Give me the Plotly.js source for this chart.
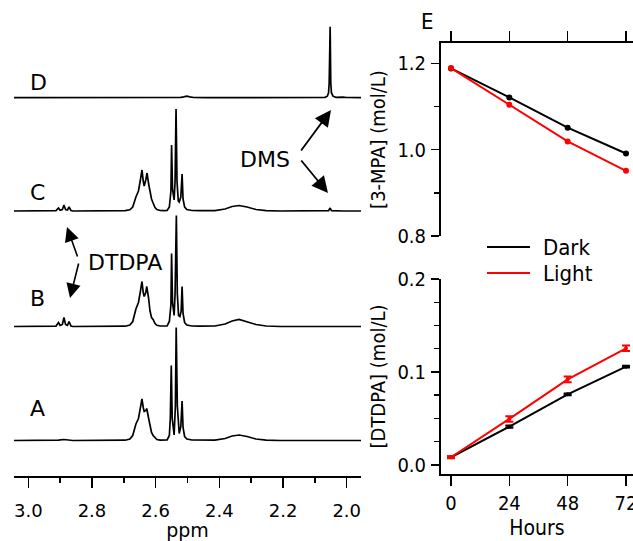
<!DOCTYPE html>
<html>
<head>
<meta charset="utf-8">
<script src="https://cdn.plot.ly/plotly-3.0.1.min.js"></script>
<style>html,body{margin:0;padding:0;background:#fff}#chart{width:633px;height:541px}</style>
</head>
<body>
<div id="chart"></div>
<script>
// ---------- DATA ----------
const ppmTickVals = [3.0, 2.8, 2.6, 2.4, 2.2, 2.0];
const ppmTickText = ['3.0', '2.8', '2.6', '2.4', '2.2', '2.0'];

// Spectrum D (ppm, intensity)
const specD_ppm = [3.045, 2.600, 2.521, 2.512, 2.502, 2.493, 2.480, 2.440, 2.240, 2.222, 2.205, 2.100, 2.094, 2.088, 2.068, 2.061, 2.057, 2.055, 2.052, 2.050, 2.048, 2.043, 2.034, 2.012, 2.000, 1.955];
const specD_int = [0, 0, 0.3, 0.8, 1.5, 0.8, 0.2, 0, 0, 0.6, 0, 0, 0.4, 0, 0.4, 1.5, 5, 15, 71, 15, 5, 1.5, 0.4, 0.5, 0.2, 0];

// Spectrum C
const specC_ppm = [3.045, 2.932, 2.913, 2.905, 2.900, 2.893, 2.888, 2.883, 2.877, 2.872, 2.866, 2.860, 2.775, 2.696, 2.681, 2.672, 2.662, 2.654, 2.648, 2.643, 2.639, 2.636, 2.631, 2.627, 2.622, 2.618, 2.613, 2.608, 2.602, 2.596, 2.586, 2.574, 2.564, 2.557, 2.552, 2.550, 2.547, 2.542, 2.539, 2.536, 2.533, 2.529, 2.526, 2.521, 2.517, 2.514, 2.509, 2.502, 2.486, 2.461, 2.414, 2.382, 2.360, 2.338, 2.313, 2.285, 2.253, 2.209, 2.068, 2.057, 2.052, 2.048, 2.012, 1.955];
const specC_int = [0, 0, 0.3, 3, 0.8, 1.5, 6, 1.5, 1, 4, 0.5, 0, 0, 0.3, 1.2, 4, 14, 20, 31, 41, 30, 25, 31, 38, 27, 18, 12, 8, 3.5, 1.5, 0.5, 0.3, 0.6, 4, 20, 66, 22, 11, 30, 102, 30, 10, 9, 14, 37, 12, 4, 1.5, 0.5, 0.3, 0.4, 2, 4.5, 5.5, 4, 1.5, 0.4, 0, 0, 0.3, 3, 0.3, 0, 0];

// Spectrum B
const specB_ppm = [3.045, 2.932, 2.913, 2.905, 2.900, 2.893, 2.888, 2.883, 2.877, 2.872, 2.866, 2.860, 2.696, 2.681, 2.672, 2.662, 2.654, 2.648, 2.643, 2.639, 2.636, 2.631, 2.628, 2.622, 2.618, 2.613, 2.608, 2.602, 2.596, 2.586, 2.574, 2.564, 2.557, 2.552, 2.550, 2.547, 2.542, 2.539, 2.535, 2.532, 2.528, 2.524, 2.520, 2.517, 2.514, 2.509, 2.502, 2.486, 2.461, 2.414, 2.382, 2.360, 2.338, 2.313, 2.285, 2.253, 2.209, 1.955];
const specB_int = [0, 0, 0.4, 4, 1, 2, 9, 2, 1.2, 5, 0.5, 0, 0.3, 1.5, 5, 17.5, 24, 35, 45, 34, 30, 34, 40, 28, 16, 9, 7, 3, 1.2, 0.5, 0.3, 0.7, 5, 22, 73, 24, 11, 33, 111, 33, 11, 10, 15, 40, 13, 4, 1.5, 0.5, 0.3, 0.5, 2.5, 5.5, 7, 5, 2, 0.5, 0, 0];

// Spectrum A
const specA_ppm = [3.045, 2.932, 2.905, 2.888, 2.872, 2.860, 2.696, 2.681, 2.672, 2.662, 2.654, 2.648, 2.643, 2.639, 2.636, 2.631, 2.628, 2.622, 2.618, 2.613, 2.608, 2.602, 2.596, 2.586, 2.574, 2.564, 2.557, 2.554, 2.551, 2.548, 2.542, 2.538, 2.5355, 2.532, 2.526, 2.521, 2.517, 2.514, 2.509, 2.502, 2.486, 2.414, 2.382, 2.360, 2.338, 2.313, 2.285, 2.253, 2.209, 1.955];
const specA_int = [0, 0, 0.4, 1, 0.4, 0, 0.3, 1.5, 5, 16.5, 22, 32, 41.5, 33, 29, 30, 32, 22, 14, 8, 5, 2.5, 1, 0.4, 0.3, 0.6, 5, 22, 75, 22, 5.5, 35, 113, 35, 7, 14, 39.5, 13, 4, 1.5, 0.5, 0.4, 2, 4.5, 5.5, 4, 1.5, 0.4, 0, 0];

// Panel E
const hours = [0, 24, 48, 72];
const hourTickText = ['0', '24', '48', '72'];
const mpaDark = [1.188, 1.121, 1.051, 0.991];
const mpaLight = [1.189, 1.104, 1.019, 0.951];
const dtdpaDark = [0.0083, 0.0412, 0.0760, 0.1057];
const dtdpaDarkErr = [0.0008, 0.0012, 0.0010, 0.0010];
const dtdpaLight = [0.0083, 0.0495, 0.0921, 0.1255];
const dtdpaLightErr = [0.0010, 0.0030, 0.0030, 0.0030];
const seriesNames = ['Dark', 'Light'];

// ---------- LAYOUT HELPERS ----------
const W = 633, H = 541;
const px = x => x / W;
const py = y => 1 - y / H;
function specAxis(basePx, lo, hi) {
  return {domain: [py(basePx - lo), py(basePx - hi)], range: [lo, hi], anchor: 'x', visible: false, fixedrange: true};
}
const F_L = 'DejaVu Sans, Verdana, sans-serif';
const F_R = 'DejaVu Sans Condensed, DejaVu Sans, sans-serif';
const BLACK = '#000000', RED = '#ff0000';

const specLine = {color: BLACK, width: 1.7};
const traces = [
  {x: specA_ppm, y: specA_int, xaxis: 'x', yaxis: 'y', mode: 'lines', line: specLine, hoverinfo: 'skip'},
  {x: specB_ppm, y: specB_int, xaxis: 'x', yaxis: 'y2', mode: 'lines', line: specLine, hoverinfo: 'skip'},
  {x: specC_ppm, y: specC_int, xaxis: 'x', yaxis: 'y3', mode: 'lines', line: specLine, hoverinfo: 'skip'},
  {x: specD_ppm, y: specD_int, xaxis: 'x', yaxis: 'y4', mode: 'lines', line: specLine, hoverinfo: 'skip'},
  {x: hours, y: mpaDark, name: seriesNames[0], xaxis: 'x2', yaxis: 'y5', mode: 'lines+markers', line: {color: BLACK, width: 2}, marker: {color: BLACK, size: 6}, cliponaxis: false},
  {x: hours, y: mpaLight, name: seriesNames[1], xaxis: 'x2', yaxis: 'y5', mode: 'lines+markers', line: {color: RED, width: 2}, marker: {color: RED, size: 6}, cliponaxis: false},
  {x: hours, y: dtdpaDark, name: seriesNames[0], xaxis: 'x3', yaxis: 'y6', mode: 'lines+markers', line: {color: BLACK, width: 2}, marker: {color: BLACK, size: 4}, error_y: {type: 'data', array: dtdpaDarkErr, color: BLACK, thickness: 2, width: 4}, cliponaxis: false},
  {x: hours, y: dtdpaLight, name: seriesNames[1], xaxis: 'x3', yaxis: 'y6', mode: 'lines+markers', line: {color: RED, width: 2}, marker: {color: RED, size: 4}, error_y: {type: 'data', array: dtdpaLightErr, color: RED, thickness: 2, width: 4}, cliponaxis: false}
];

const axCommon = {showgrid: false, zeroline: false, showline: true, linecolor: BLACK, linewidth: 2, ticks: 'outside', tickcolor: BLACK, tickwidth: 1.5, automargin: false, fixedrange: true, ticklabeloverflow: 'allow'};
const hourRange = [-4.11, 74.88];

const layout = {
  width: W, height: H,
  margin: {l: 0, r: 0, t: 0, b: 0},
  paper_bgcolor: '#ffffff', plot_bgcolor: 'rgba(0,0,0,0)',
  showlegend: false,
  font: {family: F_L, color: BLACK, size: 18},
  xaxis: Object.assign({}, axCommon, {
    domain: [px(14), px(361)], range: [3.0449, 1.9551], anchor: 'free', position: py(477),
    tickmode: 'array', tickvals: ppmTickVals, ticktext: ppmTickText, ticklen: 10,
    minor: {dtick: 0.1, tick0: 0, ticks: 'outside', ticklen: 5, tickwidth: 1.5, tickcolor: BLACK, showgrid: false},
    tickfont: {family: F_L, size: 18}, ticklabelstandoff: 7,
    title: {text: 'ppm', font: {family: F_L, size: 19}, standoff: 4}
  }),
  yaxis: specAxis(440.5, -10, 120),
  yaxis2: specAxis(326.5, -10, 118),
  yaxis3: specAxis(211, -10, 110),
  yaxis4: specAxis(97.7, -10, 85),
  xaxis2: Object.assign({}, axCommon, {
    domain: [px(441), 1], range: hourRange, anchor: 'y5', side: 'top',
    tickmode: 'array', tickvals: hours, ticklen: 10, showticklabels: false
  }),
  yaxis5: Object.assign({}, axCommon, {
    domain: [py(236), py(43)], range: [0.8, 1.247], anchor: 'x2',
    tickmode: 'array', tickvals: [0.8, 1.0, 1.2], ticktext: ['0.8', '1.0', '1.2'], ticklen: 8,
    minor: {dtick: 0.1, tick0: 0.8, ticks: 'outside', ticklen: 5, tickwidth: 1.5, tickcolor: BLACK, showgrid: false},
    tickfont: {family: F_R, size: 20}, ticklabelstandoff: 1,
    title: {text: '[3-MPA] (mol/L)', font: {family: F_R, size: 20}, standoff: 6}
  }),
  xaxis3: Object.assign({}, axCommon, {
    domain: [px(441), 1], range: hourRange, anchor: 'y6', side: 'bottom',
    tickmode: 'array', tickvals: hours, ticktext: hourTickText, ticklen: 10,
    tickfont: {family: F_R, size: 20}, ticklabelstandoff: 0,
    title: {text: 'Hours', font: {family: F_R, size: 21}, standoff: 6}
  }),
  yaxis6: Object.assign({}, axCommon, {
    domain: [py(474), py(279)], range: [-0.0097, 0.2], anchor: 'x3',
    tickmode: 'array', tickvals: [0, 0.1, 0.2], ticktext: ['0.0', '0.1', '0.2'], ticklen: 8,
    minor: {dtick: 0.025, tick0: 0, ticks: 'outside', ticklen: 5, tickwidth: 1.5, tickcolor: BLACK, showgrid: false},
    tickfont: {family: F_R, size: 20}, ticklabelstandoff: 1,
    title: {text: '[DTDPA] (mol/L)', font: {family: F_R, size: 20}, standoff: 6}
  }),
  shapes: [
    {type: 'line', xref: 'paper', yref: 'paper', x0: px(487), x1: px(530), y0: py(247), y1: py(247), line: {color: BLACK, width: 2}},
    {type: 'line', xref: 'paper', yref: 'paper', x0: px(487), x1: px(530), y0: py(273), y1: py(273), line: {color: RED, width: 2}}
  ],
  annotations: [
    {text: 'D', xref: 'paper', yref: 'paper', x: px(38), y: py(83), xanchor: 'center', yanchor: 'middle', showarrow: false, font: {family: F_L, size: 22}},
    {text: 'C', xref: 'paper', yref: 'paper', x: px(37), y: py(192), xanchor: 'center', yanchor: 'middle', showarrow: false, font: {family: F_L, size: 22}},
    {text: 'B', xref: 'paper', yref: 'paper', x: px(37), y: py(298), xanchor: 'center', yanchor: 'middle', showarrow: false, font: {family: F_L, size: 22}},
    {text: 'A', xref: 'paper', yref: 'paper', x: px(37), y: py(408), xanchor: 'center', yanchor: 'middle', showarrow: false, font: {family: F_L, size: 22}},
    {text: 'DMS', xref: 'paper', yref: 'paper', x: px(265), y: py(160), xanchor: 'center', yanchor: 'middle', showarrow: false, font: {family: F_L, size: 22}},
    {text: 'DTDPA', xref: 'paper', yref: 'paper', x: px(125), y: py(262), xanchor: 'center', yanchor: 'middle', showarrow: false, font: {family: F_L, size: 22}},
    {text: '', xref: 'paper', yref: 'paper', x: px(331), y: py(110), ax: -31, ay: 42, showarrow: true, arrowhead: 2, arrowsize: 1.8, arrowwidth: 1.8, arrowcolor: BLACK},
    {text: '', xref: 'paper', yref: 'paper', x: px(328), y: py(193), ax: -28, ay: -34, showarrow: true, arrowhead: 2, arrowsize: 1.8, arrowwidth: 1.8, arrowcolor: BLACK},
    {text: '', xref: 'paper', yref: 'paper', x: px(67), y: py(227), ax: 11, ay: 31, showarrow: true, arrowhead: 2, arrowsize: 1.8, arrowwidth: 1.6, arrowcolor: BLACK},
    {text: '', xref: 'paper', yref: 'paper', x: px(70), y: py(298), ax: 9, ay: -36, showarrow: true, arrowhead: 2, arrowsize: 1.8, arrowwidth: 1.6, arrowcolor: BLACK},
    {text: 'E', xref: 'paper', yref: 'paper', x: px(427), y: py(22), xanchor: 'center', yanchor: 'middle', showarrow: false, font: {family: F_R, size: 22}},
    {text: seriesNames[0], xref: 'paper', yref: 'paper', x: px(541), y: py(247), xanchor: 'left', yanchor: 'middle', showarrow: false, font: {family: F_R, size: 22}},
    {text: seriesNames[1], xref: 'paper', yref: 'paper', x: px(541), y: py(273), xanchor: 'left', yanchor: 'middle', showarrow: false, font: {family: F_R, size: 22}}
  ]
};

Plotly.newPlot('chart', traces, layout, {staticPlot: true, displayModeBar: false});
</script>
</body>
</html>
